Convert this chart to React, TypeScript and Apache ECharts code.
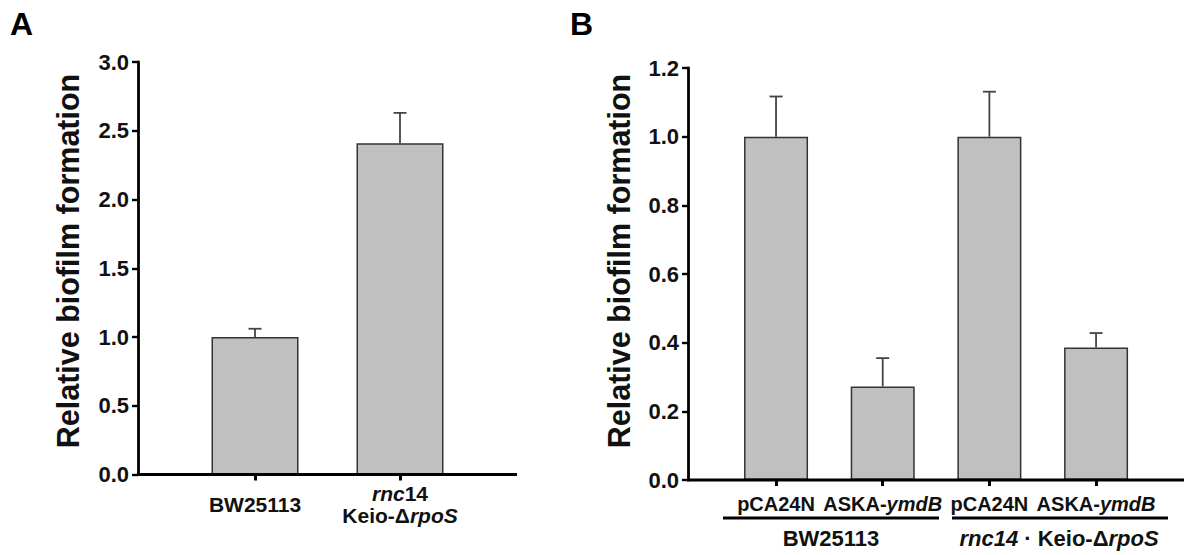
import React, { useEffect, useRef } from 'react';
import * as echarts from 'echarts';

// ---------- data ----------
const categoriesA = ['BW25113', 'rnc14 Keio-ΔrpoS'];
const valuesA = [1.0, 2.41];
const errorsA = [0.06, 0.22];

const categoriesB = ['pCA24N', 'ASKA-ymdB', 'pCA24N', 'ASKA-ymdB'];
const valuesB = [1.0, 0.272, 1.0, 0.386];
const errorsB = [0.117, 0.083, 0.131, 0.042];
const groupsB = ['BW25113', 'rnc14 · Keio-ΔrpoS'];

const yTitle = 'Relative biofilm formation';
const FONT = '"Liberation Sans", Arial, sans-serif';

const richStyles = (size: number, lh: number) => ({
  b: { fontFamily: FONT, fontWeight: 'bold', fontSize: size, color: '#111', lineHeight: lh },
  i: { fontFamily: FONT, fontWeight: 'bold', fontStyle: 'italic', fontSize: size, color: '#111', lineHeight: lh },
});

const labelA = (v: string) => {
  if (v === 'BW25113') return '{b|BW25113}';
  return '{i|rnc}{b|14}\n{b|Keio-Δ}{i|rpoS}';
};
const labelB = (v: string) => {
  if (v === 'ASKA-ymdB') return '{b|ASKA-}{i|ymdB}';
  return '{b|' + v + '}';
};

const errorSeries = (xIdx: number, vals: number[], errs: number[]) => ({
  type: 'custom',
  xAxisIndex: xIdx,
  yAxisIndex: xIdx,
  z: 5,
  data: vals.map((v, i) => [i, v, errs[i]]),
  encode: { x: 0, y: 1 },
  renderItem: (params: any, api: any) => {
    const x = api.value(0);
    const v = api.value(1);
    const e = api.value(2);
    const base = api.coord([x, v]);
    const top = api.coord([x, v + e]);
    const hw = 6.5;
    const style = { stroke: '#444', lineWidth: 1.8 };
    return {
      type: 'group',
      children: [
        { type: 'line', shape: { x1: base[0], y1: base[1], x2: top[0], y2: top[1] }, style },
        { type: 'line', shape: { x1: top[0] - hw, y1: top[1], x2: top[0] + hw, y2: top[1] }, style },
      ],
    };
  },
});

const yAxisCommon = {
  type: 'value',
  splitLine: { show: false },
  axisLine: { show: true, lineStyle: { color: '#000', width: 2.8 } },
  axisTick: { show: true, length: 6, lineStyle: { color: '#000', width: 2.4 } },
  axisLabel: {
    fontFamily: FONT, fontWeight: 'bold', fontSize: 22, color: '#111', margin: 9,
    formatter: (v: number) => v.toFixed(1),
  },
};

const titleText = (x: number, y: number) => ({
  type: 'text',
  x, y,
  rotation: Math.PI / 2,
  style: {
    text: yTitle,
    font: `bold 30.5px ${FONT}`,
    fill: '#111',
    align: 'center',
    verticalAlign: 'middle',
  },
});

export default function App() {
  const ref = useRef<HTMLDivElement>(null);
  useEffect(() => {
    if (!ref.current) return;
    const chart = echarts.init(ref.current, null, { renderer: 'svg' });
    const option: any = {
      animation: false,
      backgroundColor: '#fff',
      grid: [
        { left: 182.5, top: 62, width: 290, height: 412.5 },
        { left: 722.7, top: 68, width: 426.7, height: 412 },
      ],
      xAxis: [
        {
          type: 'category',
          gridIndex: 0,
          data: categoriesA,
          axisLine: { show: false },
          axisTick: { show: true, alignWithLabel: true, length: 6, lineStyle: { color: '#000', width: 3 } },
          axisLabel: {
            formatter: labelA,
            rich: richStyles(21, 22.5),
            margin: 30,
            verticalAlign: 'middle',
            interval: 0,
          },
        },
        {
          type: 'category',
          gridIndex: 1,
          data: categoriesB,
          axisLine: { show: false },
          axisTick: { show: true, alignWithLabel: true, length: 6, lineStyle: { color: '#000', width: 3 } },
          axisLabel: {
            formatter: labelB,
            rich: richStyles(20, 20),
            margin: 14,
            interval: 0,
          },
        },
      ],
      yAxis: [
        { ...yAxisCommon, gridIndex: 0, min: 0, max: 3, interval: 0.5, offset: 44.5 },
        { ...yAxisCommon, gridIndex: 1, min: 0, max: 1.2, interval: 0.2, offset: 34.7 },
      ],
      series: [
        {
          type: 'bar', xAxisIndex: 0, yAxisIndex: 0, data: valuesA, barWidth: '60%',
          itemStyle: { color: '#c0c0c0', borderColor: '#333', borderWidth: 1.5 },
        },
        errorSeries(0, valuesA, errorsA),
        {
          type: 'bar', xAxisIndex: 1, yAxisIndex: 1, data: valuesB, barWidth: '60%',
          itemStyle: { color: '#c0c0c0', borderColor: '#333', borderWidth: 1.5 },
        },
        errorSeries(1, valuesB, errorsB),
      ],
      graphic: [
        { type: 'text', left: 10, top: 8, style: { text: 'A', font: `bold 32px ${FONT}`, fill: '#000' } },
        { type: 'text', left: 570, top: 8, style: { text: 'B', font: `bold 32px ${FONT}`, fill: '#000' } },
        titleText(68, 261),
        titleText(619, 261),
        { type: 'line', shape: { x1: 137, y1: 474.5, x2: 517, y2: 474.5 }, style: { stroke: '#000', lineWidth: 3 }, z: 10 },
        { type: 'line', shape: { x1: 687, y1: 480, x2: 1184, y2: 480 }, style: { stroke: '#000', lineWidth: 3 }, z: 10 },
        { type: 'line', shape: { x1: 723, y1: 518, x2: 939, y2: 518 }, style: { stroke: '#000', lineWidth: 3 } },
        { type: 'line', shape: { x1: 952, y1: 518, x2: 1168, y2: 518 }, style: { stroke: '#000', lineWidth: 3 } },
        {
          type: 'text', x: 831, y: 538,
          style: { text: groupsB[0], font: `bold 22px ${FONT}`, fill: '#111', align: 'center', verticalAlign: 'middle' },
        },
        {
          type: 'text', x: 1059, y: 538,
          style: {
            text: '{i|rnc14}{b| · Keio-Δ}{i|rpoS}',
            align: 'center', verticalAlign: 'middle',
            rich: {
              b: { fontFamily: FONT, fontWeight: 'bold', fontSize: 22, fill: '#111' },
              i: { fontFamily: FONT, fontWeight: 'bold', fontStyle: 'italic', fontSize: 22, fill: '#111' },
            },
          },
        },
      ],
    };
    chart.setOption(option);
    return () => chart.dispose();
  }, []);
  return (
    <div
      ref={ref}
      style={{ position: 'fixed', left: 0, top: 0, width: 1184, height: 555, background: '#fff' }}
    />
  );
}
